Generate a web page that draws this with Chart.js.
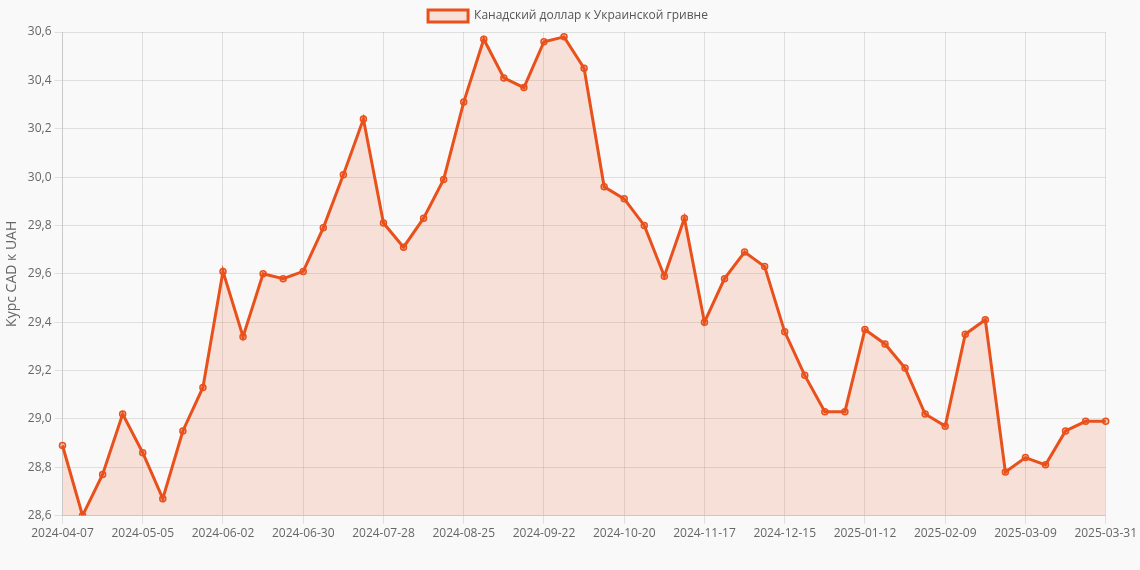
<!DOCTYPE html>
<html>
<head>
<meta charset="utf-8">
<script src="https://cdn.jsdelivr.net/npm/chart.js"></script>
<style>
  html, body { margin: 0; padding: 0; background: #f9f9f9; }
  #wrap { width: 1140px; height: 570px; }
</style>
</head>
<body>
<div id="wrap"><canvas id="rateChart"></canvas></div>
<script>
// Weekly dates
const dates = [
  '2024-04-07', '2024-04-14', '2024-04-21', '2024-04-28', '2024-05-05', '2024-05-12', '2024-05-19', '2024-05-26',
  '2024-06-02', '2024-06-09', '2024-06-16', '2024-06-23', '2024-06-30', '2024-07-07', '2024-07-14', '2024-07-21',
  '2024-07-28', '2024-08-04', '2024-08-11', '2024-08-18', '2024-08-25', '2024-09-01', '2024-09-08', '2024-09-15',
  '2024-09-22', '2024-09-29', '2024-10-06', '2024-10-13', '2024-10-20', '2024-10-27', '2024-11-03', '2024-11-10',
  '2024-11-17', '2024-11-24', '2024-12-01', '2024-12-08', '2024-12-15', '2024-12-22', '2024-12-29', '2025-01-05',
  '2025-01-12', '2025-01-19', '2025-01-26', '2025-02-02', '2025-02-09', '2025-02-16', '2025-02-23', '2025-03-02',
  '2025-03-09', '2025-03-16', '2025-03-23', '2025-03-30', '2025-03-31'
];

// CAD to UAH rate
const rates = [
  28.89, 28.60, 28.77, 29.02, 28.86, 28.67, 28.95, 29.13,
  29.61, 29.34, 29.60, 29.58, 29.61, 29.79, 30.01, 30.24,
  29.81, 29.71, 29.83, 29.99, 30.31, 30.57, 30.41, 30.37,
  30.56, 30.58, 30.45, 29.96, 29.91, 29.80, 29.59, 29.83,
  29.40, 29.58, 29.69, 29.63, 29.36, 29.18, 29.03, 29.03,
  29.37, 29.31, 29.21, 29.02, 28.97, 29.35, 29.41, 28.78,
  28.84, 28.81, 28.95, 28.99, 28.99
];

const ctx = document.getElementById('rateChart');

new Chart(ctx, {
  type: 'line',
  data: {
    labels: dates,
    datasets: [{
      label: 'Канадский доллар к Украинской гривне',
      data: rates,
      borderColor: '#e9511c',
      backgroundColor: 'rgba(233, 81, 28, 0.15)',
      pointBackgroundColor: 'rgba(233, 81, 28, 0.3)',
      pointBorderColor: '#e9511c',
      pointRadius: 3,
      pointBorderWidth: 1.5,
      borderWidth: 3,
      tension: 0,
      fill: true
    }]
  },
  options: {
    responsive: true,
    maintainAspectRatio: false,
    animation: false,
    layout: { padding: { right: 4, bottom: 26 } },
    plugins: {
      legend: {
        labels: {
          boxWidth: 40,
          boxHeight: 12,
          color: '#555',
          font: { family: 'Open Sans', size: 12 }
        }
      }
    },
    scales: {
      x: {
        grid: { color: 'rgba(0,0,0,0.1)' },
        ticks: {
          autoSkip: false,
          maxRotation: 0,
          color: '#666',
          font: { family: 'Open Sans', size: 12 },
          callback: function(value, index) {
            if (index % 4 === 0 || index === dates.length - 1) return dates[index];
            return null;
          }
        }
      },
      y: {
        min: 28.6,
        max: 30.6,
        grid: { color: 'rgba(0,0,0,0.1)' },
        title: {
          display: true,
          text: 'Курс CAD к UAH',
          color: '#666',
          font: { family: 'Open Sans', size: 14 }
        },
        ticks: {
          stepSize: 0.2,
          color: '#666',
          font: { family: 'Open Sans', size: 12 },
          callback: function(value) {
            return value.toFixed(1).replace('.', ',');
          }
        }
      }
    }
  }
});
</script>
</body>
</html>
